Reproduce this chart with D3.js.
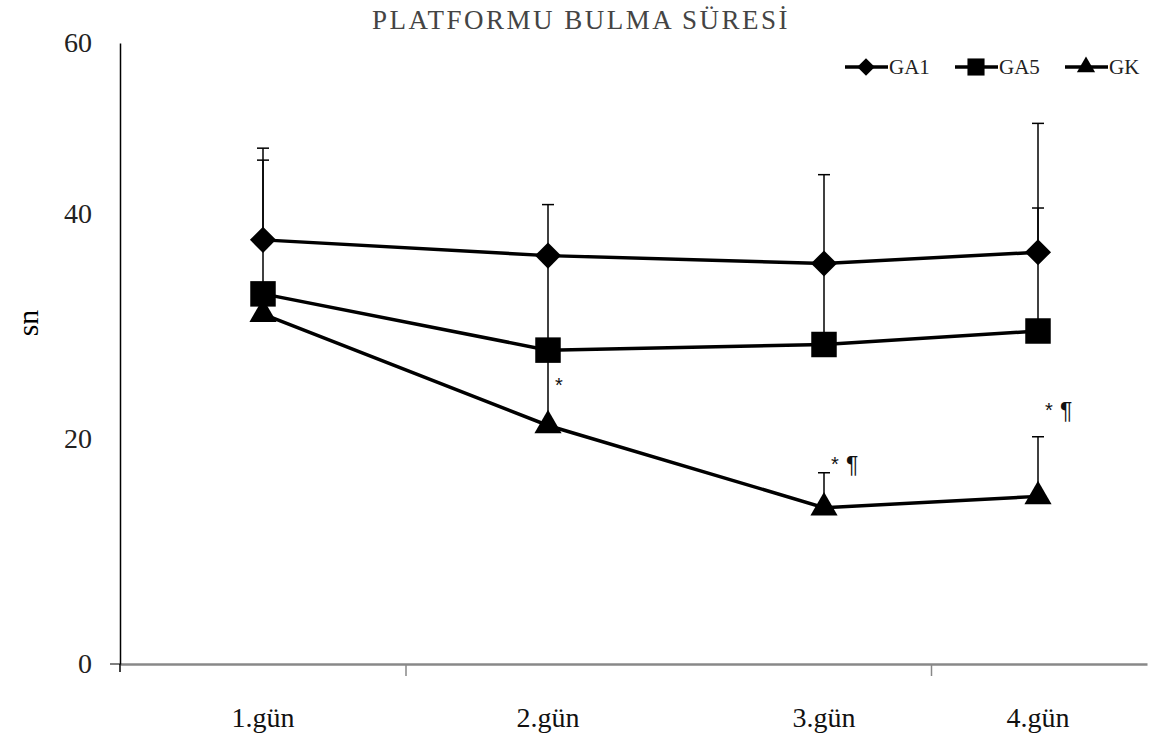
<!DOCTYPE html>
<html>
<head>
<meta charset="utf-8">
<script src="https://cdn.jsdelivr.net/npm/d3@7"></script>
<style>
  body { margin: 0; background: #fff; }
  text { font-family: "Liberation Serif", "DejaVu Serif", serif; }
</style>
</head>
<body>
<div id="chart"></div>
<script>
// data
var days = [1, 2, 3, 4];
var dayLabels = ["1.gün", "2.gün", "3.gün", "4.gün"];
var yTicks = [0, 20, 40, 60];

var ga1 = [37.7, 36.3, 35.6, 36.6];
var ga5 = [32.9, 27.9, 28.4, 29.6];
var gk = [31.1, 21.2, 13.9, 14.9];

// upper end of error bars
var ga1Err = [46.3, 41.1, 44.6, 40.7];
var ga5Err = [47.7, 36.0, 35.6, 50.6];
var gkErr = [31.1, 27.9, 17.0, 20.2];

// significance marks (star, then paragraph sign)
var marks = [
  { day: 2, value: 24.0, star: "*", para: "" },
  { day: 3, value: 17.0, star: "*", para: "¶" },
  { day: 4, value: 21.8, star: "*", para: "¶" }
];

var svgWidth = 1154;
var svgHeight = 734;

var svg = d3.select("#chart")
  .append("svg")
  .attr("width", svgWidth)
  .attr("height", svgHeight);

// scales (the picture is not evenly spaced, so piecewise scales)
var x = d3.scaleLinear()
  .domain([0.5, 1, 2, 3, 4, 4.5])
  .range([120, 263, 548, 824, 1038, 1147]);

var y = d3.scaleLinear()
  .domain([0, 20, 40, 60])
  .range([664, 439, 214, 43]);

// title
svg.append("text")
  .attr("x", 581)
  .attr("y", 29)
  .attr("text-anchor", "middle")
  .style("font-size", "27px")
  .style("letter-spacing", "2.5px")
  .style("fill", "#444")
  .text("PLATFORMU BULMA SÜRESİ");

// x axis
var xAxis = d3.axisBottom(x)
  .tickValues([1.5, 3.5])
  .tickSize(12)
  .tickSizeOuter(0)
  .tickFormat("");

var gx = svg.append("g")
  .attr("transform", `translate(0, ${y(0)})`)
  .call(xAxis);
gx.select(".domain").attr("stroke", "#888").attr("stroke-width", 2.5);
gx.selectAll(".tick line").attr("stroke", "#888").attr("stroke-width", 1.5);

// small extension left of the y axis at zero
svg.append("line")
  .attr("x1", x(0.5) - 10).attr("x2", x(0.5))
  .attr("y1", y(0)).attr("y2", y(0))
  .attr("stroke", "#555").attr("stroke-width", 1.5);

svg.append("g")
  .selectAll("text")
  .data(days)
  .enter()
  .append("text")
  .attr("x", d => x(d))
  .attr("y", 727)
  .attr("text-anchor", "middle")
  .style("font-size", "28px")
  .style("fill", "#111")
  .text((d, i) => dayLabels[i]);

// y axis
var yAxis = d3.axisLeft(y)
  .tickValues(yTicks)
  .tickSize(0)
  .tickSizeOuter(0)
  .tickPadding(28);

var gy = svg.append("g")
  .attr("transform", `translate(${x(0.5)}, 0)`)
  .call(yAxis);
gy.select(".domain").attr("stroke", "#000").attr("stroke-width", 1.5);
gy.selectAll(".tick text")
  .style("font-family", "Liberation Serif, serif")
  .style("font-size", "28px")
  .style("fill", "#222");

svg.append("line")
  .attr("x1", x(0.5)).attr("x2", x(0.5))
  .attr("y1", y(0)).attr("y2", y(0) + 8)
  .attr("stroke", "#000").attr("stroke-width", 1.5);

// y label
svg.append("text")
  .attr("transform", "translate(38, 323) rotate(-90)")
  .attr("text-anchor", "middle")
  .style("font-size", "30px")
  .text("sn");

var series = [
  { name: "GA1", values: ga1, err: ga1Err, symbol: d3.symbolSquare, size: 340, rotate: 45 },
  { name: "GA5", values: ga5, err: ga5Err, symbol: d3.symbolSquare, size: 650, rotate: 0 },
  { name: "GK", values: gk, err: gkErr, symbol: d3.symbolTriangle, size: 320, rotate: 0 }
];

// error bars
series.forEach(function (s) {
  var g = svg.append("g");
  g.selectAll("line.bar")
    .data(days)
    .enter()
    .append("line")
    .attr("x1", d => x(d)).attr("x2", d => x(d))
    .attr("y1", (d, i) => y(s.values[i]))
    .attr("y2", (d, i) => y(s.err[i]))
    .attr("stroke", "#000")
    .attr("stroke-width", 1.5);
  g.selectAll("line.cap")
    .data(days.filter((d, i) => s.err[i] > s.values[i] + 0.5))
    .enter()
    .append("line")
    .attr("x1", d => x(d) - 6).attr("x2", d => x(d) + 6)
    .attr("y1", d => y(s.err[days.indexOf(d)]))
    .attr("y2", d => y(s.err[days.indexOf(d)]))
    .attr("stroke", "#000")
    .attr("stroke-width", 1.5);
});

// lines and markers
var line = d3.line()
  .x((d, i) => x(days[i]))
  .y(d => y(d));

series.forEach(function (s) {
  svg.append("path")
    .datum(s.values)
    .attr("fill", "none")
    .attr("stroke", "#000")
    .attr("stroke-width", 3.5)
    .attr("d", line);

  svg.append("g")
    .selectAll("path")
    .data(s.values)
    .enter()
    .append("path")
    .attr("d", d3.symbol().type(s.symbol).size(s.size))
    .attr("transform", (d, i) => `translate(${x(days[i])}, ${y(d)}) rotate(${s.rotate})`)
    .attr("fill", "#000");
});

// significance marks
var mg = svg.append("g")
  .selectAll("g")
  .data(marks)
  .enter()
  .append("g")
  .attr("transform", d => `translate(${x(d.day)}, ${y(d.value)})`);

mg.append("text")
  .attr("x", 11)
  .attr("y", -2)
  .attr("text-anchor", "middle")
  .style("font-family", "Liberation Sans, sans-serif")
  .style("font-size", "20px")
  .style("fill", "#111")
  .text(d => d.star);

mg.append("text")
  .attr("x", 22)
  .attr("y", 0)
  .style("font-family", "Liberation Sans, sans-serif")
  .style("font-size", "23px")
  .style("fill", "#111")
  .text(d => d.para);

// legend
var legendX = [845, 955, 1065];
var legend = svg.append("g");
series.forEach(function (s, i) {
  var lx = legendX[i];
  legend.append("line")
    .attr("x1", lx).attr("x2", lx + 43)
    .attr("y1", 67).attr("y2", 67)
    .attr("stroke", "#000").attr("stroke-width", 3.5);
  legend.append("path")
    .attr("d", d3.symbol().type(s.symbol).size(s.size * 0.45))
    .attr("transform", `translate(${lx + 21}, 67) rotate(${s.rotate})`)
    .attr("fill", "#000");
  legend.append("text")
    .attr("x", lx + 44)
    .attr("y", 74)
    .style("font-size", "21px")
    .style("fill", "#222")
    .text(s.name);
});
</script>
</body>
</html>
